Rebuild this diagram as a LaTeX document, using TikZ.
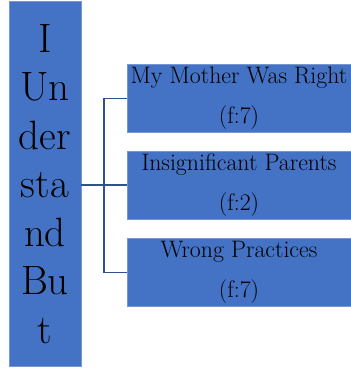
\documentclass[tikz,border=0pt]{standalone}
\usetikzlibrary{positioning}

\definecolor{boxblue}{RGB}{68,114,196}
\definecolor{edgeblue}{RGB}{120,150,210}
\definecolor{linkblue}{RGB}{47,82,143}

\tikzset{
  topic/.style={rectangle, fill=boxblue, draw=edgeblue, line width=0.6pt,
                minimum width=72pt, minimum height=365pt, inner sep=0pt,
                align=center, font=\fontsize{41}{48.5}\selectfont},
  theme/.style={rectangle, fill=boxblue, draw=edgeblue, line width=0.6pt,
                minimum width=224pt, minimum height=68pt, inner sep=0pt,
                align=center, font=\fontsize{23.8}{40}\selectfont},
  link/.style={draw=linkblue, line width=1.1pt}
}

\begin{document}
\begin{tikzpicture}[x=1pt, y=-1pt]
  \useasboundingbox (0,0) rectangle (351,368);

  % main theme, a tall column on the left
  \node[topic] (col) at (45,184) {I\\Un\\der\\sta\\nd\\Bu\\t};

  % sub-themes with their frequencies
  \node[theme] (mother) at (239,98.5) {My Mother Was Right\\(f:7)};   % first sub-theme
  \node[theme] (parents) at (239,185) {Insignificant Parents\\(f:2)}; % second sub-theme
  \node[theme] (wrong) at (239,272.5) {Wrong Practices\\(f:7)};       % third sub-theme

  % bracket joining the column to the sub-themes
  \coordinate (trunk) at (104,185);
  \draw[link] (col.east |- parents.west) -- (parents.west);
  \draw[link] (mother.west) -- (trunk |- mother.west) -- (trunk |- wrong.west) -- (wrong.west);

\end{tikzpicture}
\end{document}
